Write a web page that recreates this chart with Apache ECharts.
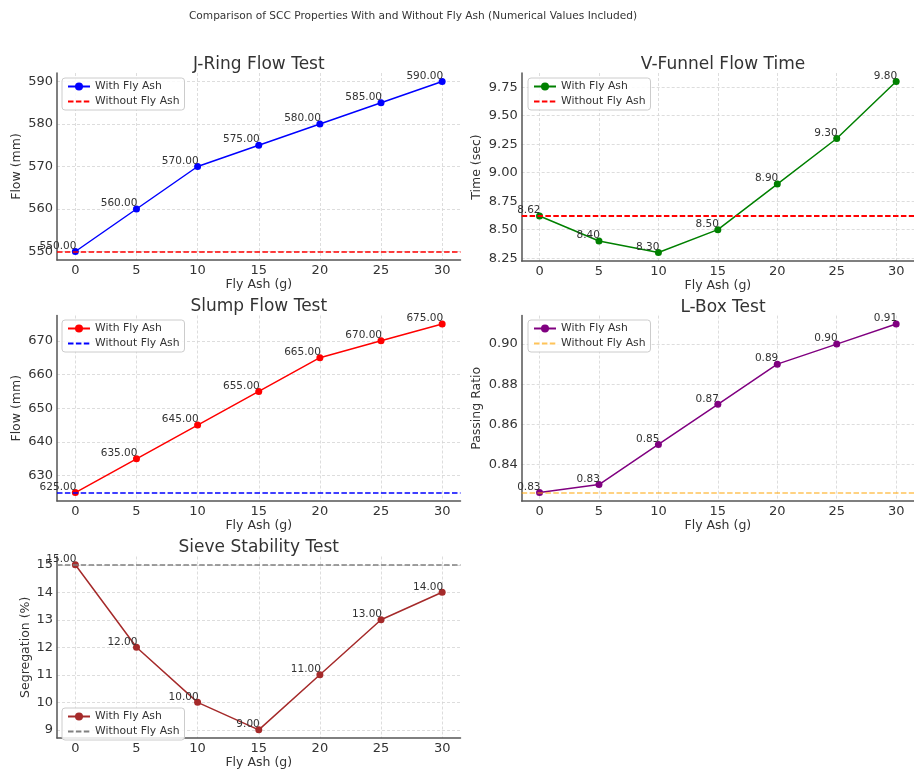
<!DOCTYPE html>
<html>
<head>
<meta charset="utf-8">
<script src="https://cdn.jsdelivr.net/npm/echarts@6/dist/echarts.min.js"></script>
<style>
html,body{margin:0;padding:0;background:#fff;}
#chart{width:914px;height:770px;}
</style>
</head>
<body>
<div id="chart"></div>
<script>
// ---- Data ----
const flyAsh = [0, 5, 10, 15, 20, 25, 30];
const xTicks = [0, 5, 10, 15, 20, 25, 30];

const jRingWith = [550, 560, 570, 575, 580, 585, 590];
const jRingWithout = 550;
const jRingTicks = [550, 560, 570, 580, 590];

const vFunnelWith = [8.62, 8.40, 8.30, 8.50, 8.90, 9.30, 9.80];
const vFunnelWithout = 8.62;
const vFunnelTicks = [8.25, 8.50, 8.75, 9.00, 9.25, 9.50, 9.75];

const slumpWith = [625, 635, 645, 655, 665, 670, 675];
const slumpWithout = 625;
const slumpTicks = [630, 640, 650, 660, 670];

const lBoxWith = [0.826, 0.83, 0.85, 0.87, 0.89, 0.90, 0.91];
const lBoxWithout = 0.826;
const lBoxTicks = [0.84, 0.86, 0.88, 0.90];

const sieveWith = [15, 12, 10, 9, 11, 13, 14];
const sieveWithout = 15;
const sieveTicks = [9, 10, 11, 12, 13, 14, 15];

const titles = ['J-Ring Flow Test', 'V-Funnel Flow Time', 'Slump Flow Test', 'L-Box Test', 'Sieve Stability Test'];
const yNames = ['Flow (mm)', 'Time (sec)', 'Flow (mm)', 'Passing Ratio', 'Segregation (%)'];
const xName = 'Fly Ash (g)';
const suptitle = 'Comparison of SCC Properties With and Without Fly Ash (Numerical Values Included)';
const withName = 'With Fly Ash';
const withoutName = 'Without Fly Ash';

// ---- Panels (styles/layout separate from data) ----
const panels = [
  {with: jRingWith, without: jRingWithout, ticks: jRingTicks, dec: 0, color: '#0000ff', wcolor: '#ff0000', wwidth: 1.5,
   grid: {left: 57, top: 73, width: 403.5, height: 187}, ymin: 548, ymax: 592, legend: {left: 62, top: 78}, yGap: 34},
  {with: vFunnelWith, without: vFunnelWithout, ticks: vFunnelTicks, dec: 2, color: '#008000', wcolor: '#ff0000', wwidth: 2,
   grid: {left: 521.7, top: 73, width: 402.6, height: 188}, ymin: 8.225, ymax: 9.875, legend: {left: 528, top: 78}, yGap: 38},
  {with: slumpWith, without: slumpWithout, ticks: slumpTicks, dec: 0, color: '#ff0000', wcolor: '#0000ff', wwidth: 1.5,
   grid: {left: 57, top: 315.5, width: 403.5, height: 185.5}, ymin: 622.5, ymax: 677.5, legend: {left: 62, top: 320}, yGap: 34},
  {with: lBoxWith, without: lBoxWithout, ticks: lBoxTicks, dec: 2, color: '#800080', wcolor: 'rgba(255,165,0,0.65)', wwidth: 1.5,
   grid: {left: 521.7, top: 315.6, width: 402.6, height: 185.4}, ymin: 0.8218, ymax: 0.9142, legend: {left: 528, top: 320}, yGap: 38},
  {with: sieveWith, without: sieveWithout, ticks: sieveTicks, dec: 0, color: '#a52a2a', wcolor: '#808080', wwidth: 1.5,
   grid: {left: 57, top: 556.5, width: 403.5, height: 186}, ymin: 8.7, ymax: 15.3, legend: {left: 62, top: 708}, yGap: 25}
];

const FONT = 'DejaVu Sans';
const textColor = '#333333';
const gridLine = {show: true, lineStyle: {color: '#d4d4d4', width: 0.8, type: [3, 2]}};
const axisLine = {show: true, onZero: false, lineStyle: {color: '#555555', width: 1.5}};

const grids = [], xAxes = [], yAxes = [], series = [], legends = [], graphics = [];

panels.forEach((p, i) => {
  grids.push(Object.assign({containLabel: false}, p.grid));
  xAxes.push({
    type: 'value', gridIndex: i, min: -1.5, max: 31.5,
    name: xName, nameLocation: 'middle', nameGap: 16,
    nameTextStyle: {fontFamily: FONT, fontSize: 12.5, color: textColor},
    axisLine: axisLine, axisTick: {show: false, customValues: xTicks},
    axisLabel: {customValues: xTicks, margin: 4, fontFamily: FONT, fontSize: 13, color: textColor},
    splitLine: gridLine
  });
  yAxes.push({
    type: 'value', gridIndex: i, min: p.ymin, max: p.ymax,
    name: yNames[i], nameLocation: 'middle', nameGap: p.yGap, nameRotate: 90,
    nameTextStyle: {fontFamily: FONT, fontSize: 12.5, color: textColor},
    axisLine: axisLine, axisTick: {show: false, customValues: p.ticks},
    axisLabel: {customValues: p.ticks, margin: 4, fontFamily: FONT, fontSize: 13, color: textColor,
      formatter: v => Number(v).toFixed(p.dec)},
    splitLine: gridLine
  });
  series.push({
    name: withName + '|' + i, type: 'line', xAxisIndex: i, yAxisIndex: i,
    data: flyAsh.map((x, k) => [x, p.with[k]]),
    symbol: 'circle', symbolSize: 7,
    lineStyle: {color: p.color, width: 1.5}, itemStyle: {color: p.color},
    label: {show: true, position: ['50%', '50%'], align: 'right', verticalAlign: 'bottom', offset: [1, 0],
      fontFamily: FONT, fontSize: 10.5, color: textColor,
      formatter: prm => prm.value[1].toFixed(2)},
    z: 2
  });
  series.push({
    name: withoutName + '|' + i, type: 'line', xAxisIndex: i, yAxisIndex: i,
    data: [], symbol: 'none',
    lineStyle: {color: p.wcolor, width: p.wwidth, type: [5.5, 2.4]}, itemStyle: {color: p.wcolor, opacity: 0},
    markLine: {silent: true, precision: 6, symbol: ['none', 'none'], label: {show: false},
      lineStyle: {color: p.wcolor, width: p.wwidth, type: [5.5, 2.4], opacity: 1},
      data: [{yAxis: p.without}]},
    z: 3
  });
  legends.push({
    data: [withName + '|' + i, {name: withoutName + '|' + i, itemStyle: {opacity: 0}}],
    formatter: n => n.split('|')[0],
    orient: 'vertical', left: p.legend.left, top: p.legend.top,
    itemWidth: 22, itemHeight: 10, itemGap: 4, itemTextGap: 10,
    padding: [3, 5], backgroundColor: 'rgba(255,255,255,0.85)',
    borderColor: '#cccccc', borderWidth: 1, borderRadius: 3,
    textStyle: {fontFamily: FONT, fontSize: 10.8, color: textColor}
  });
  graphics.push({
    type: 'text', x: p.grid.left + p.grid.width / 2, y: p.grid.top - 8.5,
    style: {text: titles[i], font: '17px "DejaVu Sans"', fill: textColor, align: 'center', verticalAlign: 'middle'}
  });
});

graphics.push({
  type: 'text', x: 413, y: 16,
  style: {text: suptitle, font: '10.6px "DejaVu Sans"', fill: textColor, align: 'center', verticalAlign: 'middle'}
});

const chart = echarts.init(document.getElementById('chart'), null, {renderer: 'canvas'});
chart.setOption({
  animation: false,
  backgroundColor: '#ffffff',
  grid: grids, xAxis: xAxes, yAxis: yAxes, series: series, legend: legends,
  graphic: graphics
});
</script>
</body>
</html>
